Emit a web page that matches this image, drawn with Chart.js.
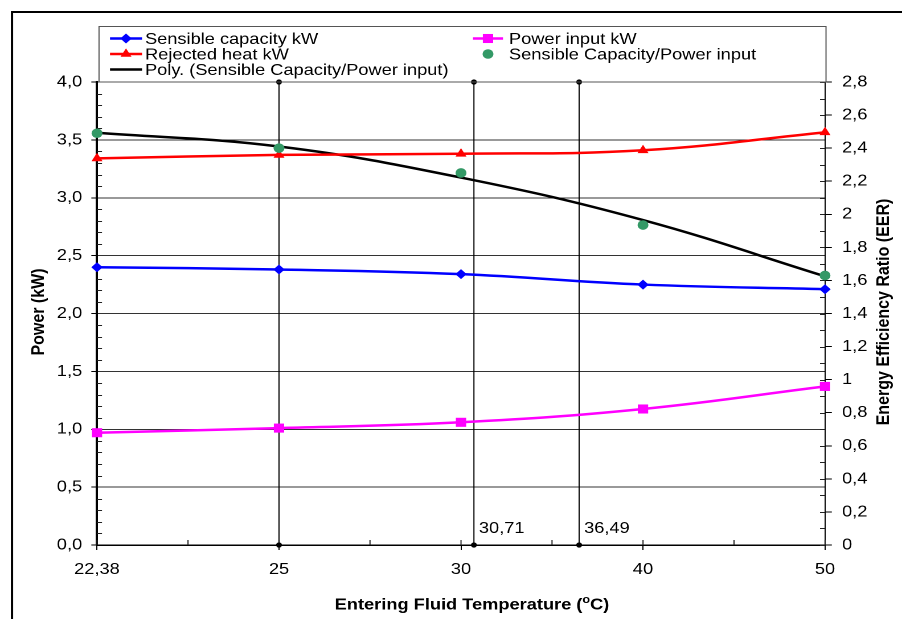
<!DOCTYPE html>
<html><head><meta charset="utf-8">
<script src="https://cdn.jsdelivr.net/npm/chart.js@4.4.1/dist/chart.umd.min.js"></script>
<style>
html,body{margin:0;padding:0;background:#fff;overflow:hidden;}
#c{position:absolute;left:0;top:0;}
</style></head><body>
<canvas id="c" width="792" height="619" style="width:902px;height:619px;"></canvas>
<script>
// ---- data ----
const temperatures = [22.38, 25, 30, 40, 50];
const xTickLabels = ['22,38', '25', '30', '40', '50'];
const sensibleCapacity = [2.40, 2.38, 2.34, 2.25, 2.21];
const powerInput = [0.97, 1.01, 1.06, 1.175, 1.37];
const rejectedHeat = [3.34, 3.37, 3.38, 3.41, 3.565];
const eerPoints = [2.49, 2.40, 2.25, 1.935, 1.63];
const eerPolyTrend = [2.493, 2.41, 2.222, 1.965, 1.625];
const markerTemps = [25, 30.71, 36.49];
const markerLabels = ['', '30,71', '36,49'];
const leftTickValues = [0, 0.5, 1, 1.5, 2, 2.5, 3, 3.5, 4];
const leftTickLabels = ['0,0', '0,5', '1,0', '1,5', '2,0', '2,5', '3,0', '3,5', '4,0'];
const rightTickValues = [0, 0.2, 0.4, 0.6, 0.8, 1, 1.2, 1.4, 1.6, 1.8, 2, 2.2, 2.4, 2.6, 2.8];
const rightTickLabels = ['0', '0,2', '0,4', '0,6', '0,8', '1', '1,2', '1,4', '1,6', '1,8', '2', '2,2', '2,4', '2,6', '2,8'];

// ---- layout helpers ----
const W = 792, H = 619;
const sx = v => v * W / 902;   // reference px -> canvas px (canvas is stretched horizontally)
const FONT = "'Liberation Sans', Arial, sans-serif";
Chart.defaults.font.family = FONT;
Chart.defaults.color = '#000';

function tempToIndex(t) {
  for (let i = 0; i < temperatures.length - 1; i++) {
    if (t >= temperatures[i] && t <= temperatures[i + 1]) {
      return i + (t - temperatures[i]) / (temperatures[i + 1] - temperatures[i]);
    }
  }
  return t < temperatures[0] ? 0 : temperatures.length - 1;
}
const toPts = arr => arr.map((v, i) => ({ x: i, y: v }));

function drawMarker(ctx, style, x, y, r, color) {
  ctx.save();
  ctx.fillStyle = color;
  ctx.beginPath();
  if (style === 'circle') {
    ctx.arc(x, y, r, 0, Math.PI * 2);
  } else if (style === 'rectRot') {
    ctx.moveTo(x, y - r); ctx.lineTo(x + r, y); ctx.lineTo(x, y + r); ctx.lineTo(x - r, y);
  } else if (style === 'rect') {
    const s = Math.SQRT1_2 * r; ctx.rect(x - s, y - s, 2 * s, 2 * s);
  } else if (style === 'triangle') {
    ctx.moveTo(x, y - r);
    ctx.lineTo(x + r * Math.sin(Math.PI / 3), y + r / 2);
    ctx.lineTo(x - r * Math.sin(Math.PI / 3), y + r / 2);
  }
  ctx.closePath();
  ctx.fill();
  ctx.restore();
}

const legendEntries = [
  { ds: 1, col: 0, row: 0 },
  { ds: 2, col: 1, row: 0 },
  { ds: 3, col: 0, row: 1 },
  { ds: 0, col: 1, row: 1 },
  { ds: 4, col: 0, row: 2 }
];

const decor = {
  id: 'decor',
  beforeDraw(chart) {
    const ctx = chart.ctx;
    ctx.save();
    ctx.fillStyle = '#fff';
    ctx.fillRect(0, 0, chart.width, chart.height);
    ctx.strokeStyle = '#000';
    ctx.lineWidth = 2;
    ctx.beginPath();
    ctx.moveTo(sx(12), chart.height + 5);
    ctx.lineTo(sx(12), 12);
    ctx.lineTo(chart.width + 5, 12);
    ctx.stroke();
    ctx.restore();
  },
  beforeDatasetsDraw(chart) {
    const ctx = chart.ctx;
    const { y, y1, x } = chart.scales;
    const a = chart.chartArea;
    ctx.save();
    ctx.strokeStyle = '#222';
    ctx.lineWidth = 1;
    ctx.beginPath();
    // left axis minor ticks (inside)
    for (let k = 0; k <= 40; k++) {
      if (k % 5 === 0) continue;
      const py = Math.round(y.getPixelForValue(k / 10)) + 0.5;
      ctx.moveTo(a.left, py); ctx.lineTo(a.left + sx(5), py);
    }
    // right axis ticks (inside part, every 0.1)
    for (let k = 0; k <= 28; k++) {
      const py = Math.round(y1.getPixelForValue(k / 10)) + 0.5;
      ctx.moveTo(a.right, py); ctx.lineTo(a.right - sx(5), py);
    }
    // x axis: inside part of major ticks and minor ticks at midpoints
    for (let k = 0; k <= (temperatures.length - 1) * 2; k++) {
      const px = x.getPixelForValue(k / 2);
      ctx.moveTo(px, a.bottom); ctx.lineTo(px, a.bottom - 5);
    }
    ctx.stroke();
    ctx.restore();
  },
  afterDraw(chart) {
    const ctx = chart.ctx;
    const { y, x } = chart.scales;
    const a = chart.chartArea;
    ctx.save();
    ctx.fillStyle = '#000';
    // marker labels
    ctx.font = '16px ' + FONT;
    ctx.textAlign = 'left';
    ctx.textBaseline = 'alphabetic';
    markerTemps.forEach((t, i) => {
      if (!markerLabels[i]) return;
      const px = x.getPixelForValue(tempToIndex(t));
      ctx.fillText(markerLabels[i], px + sx(5), a.bottom - 12);
    });
    // axis titles
    ctx.font = 'bold 16px ' + FONT;
    ctx.textAlign = 'center';
    ctx.textBaseline = 'middle';
    ctx.save();
    ctx.translate(sx(39), 312);
    ctx.rotate(-Math.PI / 2);
    ctx.fillText('Power (kW)', 0, 0);
    ctx.restore();
    ctx.save();
    ctx.translate(sx(884), 312);
    ctx.rotate(-Math.PI / 2);
    ctx.fillText('Energy Efficiency Ratio (EER)', 0, 0);
    ctx.restore();
    // x title with superscript o
    const p1 = 'Entering Fluid Temperature (', p2 = 'o', p3 = 'C)';
    ctx.textAlign = 'left';
    ctx.font = 'bold 16px ' + FONT;
    const w1 = ctx.measureText(p1).width, w3 = ctx.measureText(p3).width;
    ctx.font = 'bold 11px ' + FONT;
    const w2 = ctx.measureText(p2).width;
    let cx = sx(472) - (w1 + w2 + w3) / 2;
    const ty = 605;
    ctx.font = 'bold 16px ' + FONT;
    ctx.fillText(p1, cx, ty); cx += w1;
    ctx.font = 'bold 11px ' + FONT;
    ctx.fillText(p2, cx, ty - 5); cx += w2;
    ctx.font = 'bold 16px ' + FONT;
    ctx.fillText(p3, cx, ty);
    // legend box
    ctx.strokeStyle = '#555';
    ctx.lineWidth = 1;
    ctx.strokeRect(sx(99), 26.5, sx(826) - sx(99), 82 - 26.5);
    const cols = [{ l0: sx(110), l1: sx(142), m: sx(126), t: sx(145) },
                  { l0: sx(473), l1: sx(503), m: sx(488), t: sx(509) }];
    const rows = [38.5, 54, 69.5];
    ctx.font = '16px ' + FONT;
    ctx.textAlign = 'left';
    ctx.textBaseline = 'middle';
    legendEntries.forEach(e => {
      const ds = chart.data.datasets[e.ds];
      const c = cols[e.col], ry = rows[e.row];
      if (ds.showLine !== false) {
        ctx.strokeStyle = ds.borderColor;
        ctx.lineWidth = ds.borderWidth;
        ctx.beginPath(); ctx.moveTo(c.l0, ry); ctx.lineTo(c.l1, ry); ctx.stroke();
      }
      if (ds.pointRadius > 0) drawMarker(ctx, ds.pointStyle, c.m, ry, ds.pointRadius, ds.backgroundColor);
      ctx.fillStyle = '#000';
      ctx.fillText(ds.label, c.t, ry + 1);
    });
    ctx.restore();
  }
};

const markerDatasets = markerTemps.map(t => ({
  label: 'marker ' + t,
  data: [{ x: tempToIndex(t), y: leftTickValues[0] }, { x: tempToIndex(t), y: leftTickValues[leftTickValues.length - 1] }],
  yAxisID: 'y',
  borderColor: '#000',
  backgroundColor: '#000',
  borderWidth: 1,
  pointRadius: 2.6,
  pointBorderWidth: 0,
  tension: 0,
  clip: false
}));

new Chart(document.getElementById('c'), {
  type: 'line',
  data: {
    datasets: [
      { label: 'Sensible Capacity/Power input', data: toPts(eerPoints), yAxisID: 'y1', showLine: false, clip: false,
        pointStyle: 'circle', pointRadius: 4.8, pointBorderWidth: 0, backgroundColor: '#339966', borderColor: '#339966' },
      { label: 'Sensible capacity kW', data: toPts(sensibleCapacity), yAxisID: 'y', clip: false,
        borderColor: '#0000ff', backgroundColor: '#0000ff', borderWidth: 2.5,
        pointStyle: 'rectRot', pointRadius: 5, pointBorderWidth: 0, tension: 0.4 },
      { label: 'Power input kW', data: toPts(powerInput), yAxisID: 'y', clip: false,
        borderColor: '#ff00ff', backgroundColor: '#ff00ff', borderWidth: 2.5,
        pointStyle: 'rect', pointRadius: 6.4, pointBorderWidth: 0, tension: 0.4 },
      { label: 'Rejected heat kW', data: toPts(rejectedHeat), yAxisID: 'y', clip: false,
        borderColor: '#ff0000', backgroundColor: '#ff0000', borderWidth: 2.5,
        pointStyle: 'triangle', pointRadius: 5.6, pointBorderWidth: 0, tension: 0.4 },
      { label: 'Poly. (Sensible Capacity/Power input)', data: toPts(eerPolyTrend), yAxisID: 'y1', clip: false,
        borderColor: '#000', backgroundColor: '#000', borderWidth: 2.5, pointRadius: 0, tension: 0.4 },
      ...markerDatasets
    ]
  },
  options: {
    responsive: false,
    animation: false,
    devicePixelRatio: 2,
    layout: { padding: { top: 82, left: 0, right: 0, bottom: 0 } },
    plugins: { legend: { display: false }, tooltip: { enabled: false } },
    scales: {
      x: {
        type: 'linear', min: 0, max: temperatures.length - 1, offset: false,
        afterBuildTicks: s => { s.ticks = temperatures.map((t, i) => ({ value: i })); },
        ticks: { callback: (v, i) => xTickLabels[i], font: { size: 16 }, color: '#000', padding: 10, maxRotation: 0, autoSkip: false },
        grid: { drawOnChartArea: false, drawTicks: true, tickLength: 5, tickColor: '#000', tickWidth: 1 },
        border: { display: true, color: '#000', width: 1.5 },
        afterFit: s => { s.height = H - 545; }
      },
      y: {
        type: 'linear', position: 'left',
        min: leftTickValues[0], max: leftTickValues[leftTickValues.length - 1],
        afterBuildTicks: s => { s.ticks = leftTickValues.map(v => ({ value: v })); },
        ticks: { callback: (v, i) => leftTickLabels[i], font: { size: 16 }, color: '#000', padding: 8 },
        grid: { color: '#333', lineWidth: 1, drawTicks: true, tickLength: 5, tickColor: '#000', tickWidth: 1 },
        border: { display: true, color: '#000', width: 2 },
        afterFit: s => { s.width = sx(97); }
      },
      y1: {
        type: 'linear', position: 'right',
        min: rightTickValues[0], max: rightTickValues[rightTickValues.length - 1],
        afterBuildTicks: s => { s.ticks = rightTickValues.map(v => ({ value: v })); },
        ticks: { callback: (v, i) => rightTickLabels[i], font: { size: 16 }, color: '#000', padding: 9 },
        grid: { drawOnChartArea: false, drawTicks: true, tickLength: 6, tickColor: '#000', tickWidth: 1 },
        border: { display: true, color: '#000', width: 1 },
        afterFit: s => { s.width = W - sx(825); }
      }
    }
  },
  plugins: [decor]
});
</script>
</body></html>
